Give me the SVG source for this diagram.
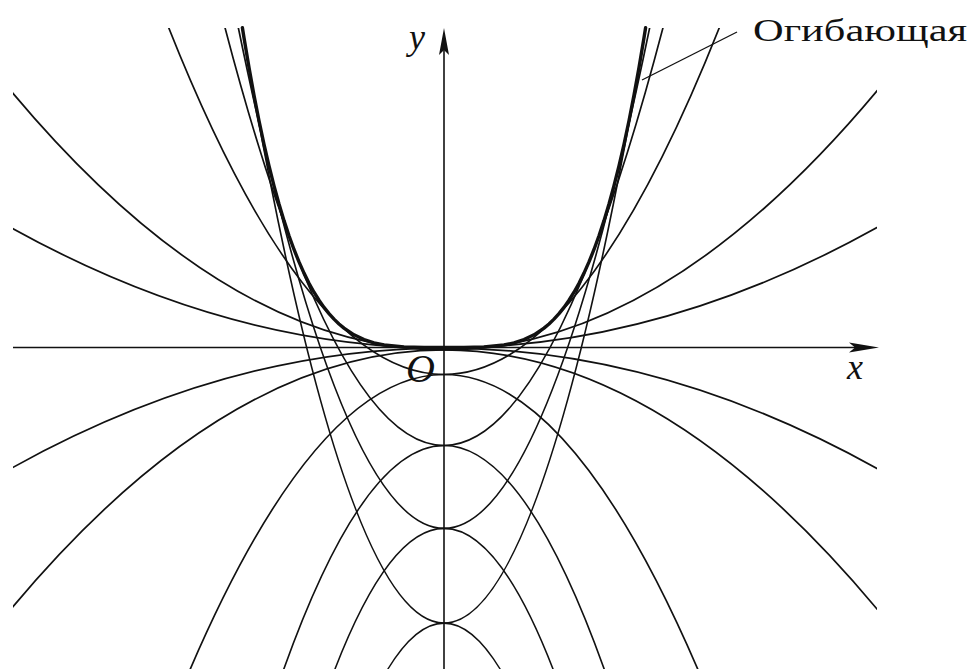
<svg xmlns="http://www.w3.org/2000/svg" width="972" height="669" viewBox="0 0 972 669">
<style>
.c{fill:none;stroke:#111;stroke-width:1.7}
.env{fill:none;stroke:#111;stroke-width:3.4;stroke-linejoin:round;stroke-linecap:round}
.ax{fill:none;stroke:#111;stroke-width:1.6}
.ah{fill:#111;stroke:none}
.m{font-family:"Liberation Serif",serif;font-style:italic;fill:#111}
.t{font-family:"Liberation Serif",serif;fill:#111}
</style>
<defs>
<clipPath id="plot"><rect x="13" y="28" width="864" height="645"/></clipPath>
</defs>
<rect width="972" height="669" fill="#fff"/>
<g id="axes">
<line class="ax" x1="13" y1="347.5" x2="858" y2="347.5"/>
<polygon class="ah" points="879,347.5 849,342.5 855,347.5 849,352.5"/>
<line class="ax" x1="444" y1="669" x2="444" y2="48"/>
<polygon class="ah" points="444,28 439,55 444,50 449,55"/>
</g>
<g id="family" clip-path="url(#plot)">
<path class="c" d="M4,223.66 Q444,472.4 884,223.66"/>
<path class="c" d="M4,472.4 Q444,223.66 884,472.4"/>
<path class="c" d="M4,82.48 Q444,617.44 884,82.48"/>
<path class="c" d="M4,617.44 Q444,82.48 884,617.44"/>
<path class="c" d="M144,-37.3 Q444,786.3 744,-37.3"/>
<path class="c" d="M144,786.3 Q444,-37.3 744,786.3"/>
<path class="c" d="M204,-56.3 Q444,947.3 684,-56.3"/>
<path class="c" d="M204,947.3 Q444,-56.3 684,947.3"/>
<path class="c" d="M229,-18.7 Q444,1075.5 659,-18.7"/>
<path class="c" d="M229,1075.5 Q444,-18.7 659,1075.5"/>
<path class="c" d="M229,-52.2 Q444,1298.3 659,-52.2"/>
<path class="c" d="M229,1298.3 Q444,-52.2 659,1298.3"/>
</g>
<g id="envelope">
<polyline class="env" points="242.4,27.7 244,37.74 249,67.57 254,95.2 259,120.73 264,144.27 269,165.92 274,185.8 279,204 284,220.62 289,235.75 294,249.49 299,261.92 304,273.13 309,283.2 314,292.21 319,300.23 324,307.36 329,313.64 334,319.15 339,323.97 344,328.14 354,334.8 364,339.57 374,342.85 384,344.99 404,347 424,347.47 444,347.5 464,347.47 484,347 504,344.99 514,342.85 524,339.57 534,334.8 544,328.14 549,323.97 554,319.15 559,313.64 564,307.36 569,300.23 574,292.21 579,283.2 584,273.13 589,261.92 594,249.49 599,235.75 604,220.62 609,204 614,185.8 619,165.92 624,144.27 629,120.73 634,95.2 639,67.57 644,37.74 645.6,27.7"/>
</g>
<g id="labels">
<text class="m" x="409" y="49" font-size="36">y</text>
<text class="m" x="847" y="379" font-size="36">x</text>
<text class="m" x="406" y="382" font-size="40">O</text>
<line class="ax" x1="737" y1="32" x2="642" y2="80" style="stroke-width:1.3"/>
<text class="t" x="753" y="41" font-size="32" textLength="214" lengthAdjust="spacingAndGlyphs">Огибающая</text>
</g>
</svg>
